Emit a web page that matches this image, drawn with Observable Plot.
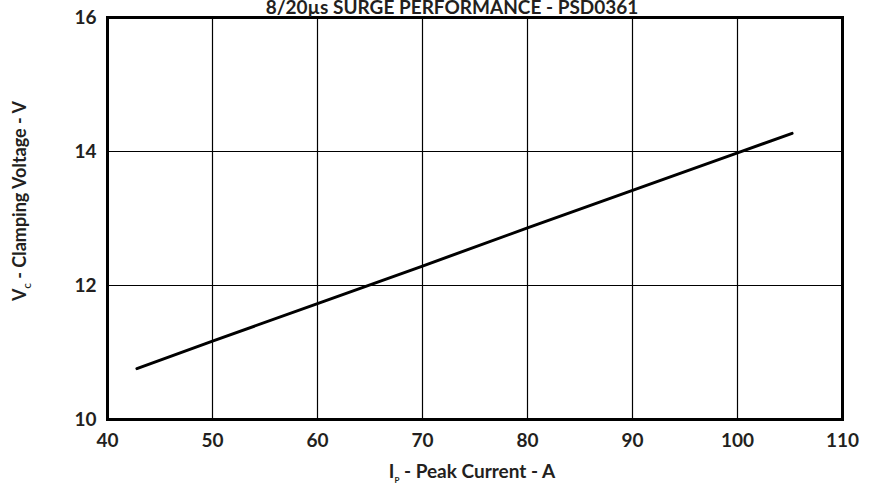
<!DOCTYPE html>
<html>
<head>
<meta charset="utf-8">
<script src="https://cdn.jsdelivr.net/npm/d3@7"></script>
<script src="https://cdn.jsdelivr.net/npm/@observablehq/plot@0.6"></script>
<style>
  html, body { margin: 0; padding: 0; background: #fff; }
  #chart { width: 873px; height: 485px; overflow: hidden; }
  svg text { font-family: Lato, "Open Sans", sans-serif; }
</style>
</head>
<body>
<div id="chart"></div>
<script>
const title = "8/20µs SURGE PERFORMANCE - PSD0361";
const peakCurrent = [42.8, 50, 60, 70, 80, 90, 100, 105.2];
const clampVoltage = [10.76, 11.17, 11.73, 12.29, 12.86, 13.42, 13.98, 14.27];
const xTicks = [40, 50, 60, 70, 80, 90, 100, 110];
const yTicks = [10, 12, 14, 16];

const data = peakCurrent.map((x, i) => ({x, y: clampVoltage[i]}));

const W = 873, H = 485;
const mL = 107, mR = 31, mT = 17, mB = 66;
const ink = "#231f20";

const plot = Plot.plot({
  width: W, height: H,
  marginLeft: mL, marginRight: mR, marginTop: mT, marginBottom: mB,
  style: {fontFamily: "Lato, 'Open Sans', sans-serif", fontSize: "19px", fontWeight: "bold", color: ink, background: "#fff", overflow: "visible"},
  x: {domain: [40, 110], label: null},
  y: {domain: [10, 16], label: null},
  marks: [
    Plot.gridX(xTicks, {stroke: "#000", strokeOpacity: 1, strokeWidth: 1.2}),
    Plot.gridY(yTicks, {stroke: "#000", strokeOpacity: 1, strokeWidth: 1.2}),
    Plot.axisX(xTicks, {tickSize: 0, tickPadding: 14, tickFormat: "d", fontSize: 19, fontWeight: "bold", fill: ink, label: null}),
    Plot.axisY(yTicks, {tickSize: 0, tickPadding: 11, tickFormat: "d", fontSize: 19, fontWeight: "bold", fill: ink, label: null}),
    Plot.line(data, {x: "x", y: "y", stroke: "#000", strokeWidth: 3}),
    Plot.frame({stroke: "#000", strokeWidth: 3}),
    Plot.text([title], {frameAnchor: "top", lineAnchor: "bottom", dy: -4, dx: -23, fontSize: 19, fontWeight: "bold", fill: ink, text: d => d})
  ]
});

document.getElementById("chart").appendChild(plot);

const svg = d3.select(plot);

const xl = svg.append("text")
  .attr("x", 472).attr("y", 478)
  .attr("text-anchor", "middle")
  .attr("font-size", 19).attr("font-weight", "bold").attr("fill", ink);
xl.append("tspan").text("I");
xl.append("tspan").attr("font-size", 8).attr("dy", 5).text("P");
xl.append("tspan").attr("dy", -5).text(" - Peak Current - A");

const yl = svg.append("text")
  .attr("transform", `translate(26,201) rotate(-90)`)
  .attr("text-anchor", "middle")
  .attr("font-size", 18).attr("font-weight", "bold").attr("fill", ink);
yl.append("tspan").text("V");
yl.append("tspan").attr("font-size", 8).attr("dy", 5).text("C");
yl.append("tspan").attr("dy", -5).text(" - Clamping Voltage - V");
</script>
</body>
</html>
